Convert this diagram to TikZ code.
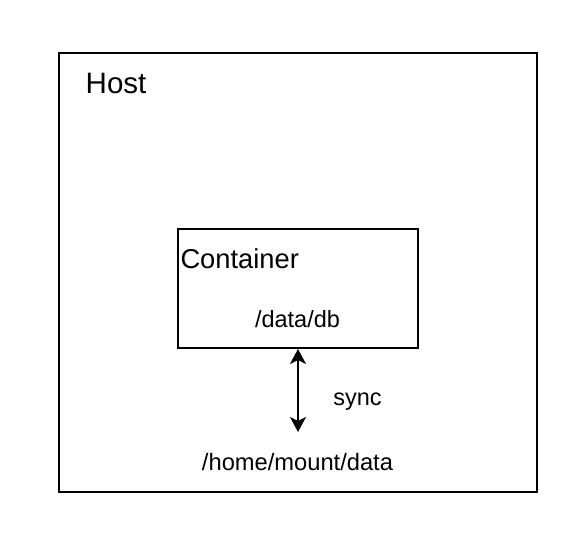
\documentclass[tikz,border=0pt]{standalone}
\usepackage{fontspec}
\setmainfont{Liberation Sans}
\usetikzlibrary{arrows.meta}
\begin{document}
\begin{tikzpicture}[x=1pt,y=-1pt,
  box/.style={draw=black,line width=2pt,rectangle,inner sep=0pt,fill=none},
  lbl/.style={inner sep=0pt,text=black},
  synctip/.tip={Stealth[length=15pt,width=16pt,inset=4pt]},
  syncarrow/.style={line width=2pt,synctip-synctip}]
\useasboundingbox (0,0) rectangle (588,540);
\node[box,minimum width=478pt,minimum height=439pt] (host) at (298,272.5) {};
\node[box,minimum width=240pt,minimum height=119pt] (cont) at (298,288.5) {};
\node[lbl,anchor=base west,font=\fontsize{29.5}{34}\selectfont] (hostlbl) at (85.5,93.3) {Host};
\node[lbl,anchor=base west,font=\fontsize{27.3}{32}\selectfont] (contlbl) at (180.3,268.3) {Container};
\node[lbl,anchor=base,font=\fontsize{23.5}{28}\selectfont] (db) at (297.5,327.3) {/data/db};
\node[lbl,anchor=base,font=\fontsize{23.5}{28}\selectfont] (sync) at (357.5,405) {sync};
\node[lbl,anchor=base,font=\fontsize{23.7}{28}\selectfont] (mnt) at (297.5,470) {/home/mount/data};
\coordinate (mnttop) at (298,432);
\draw[syncarrow] (cont.south) -- (mnttop);
\end{tikzpicture}
\end{document}
